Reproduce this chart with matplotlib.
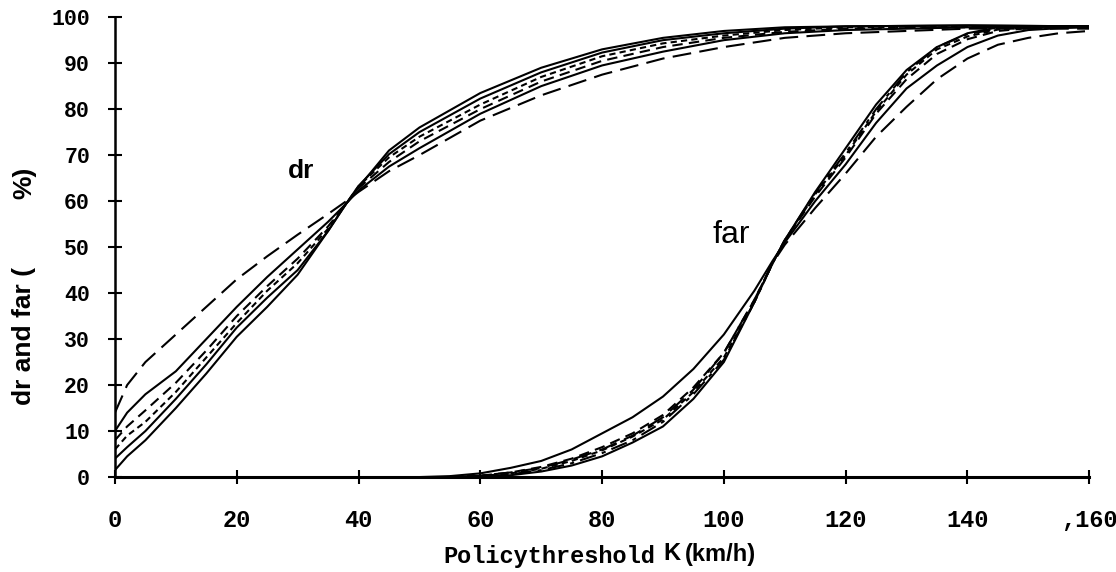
import matplotlib.pyplot
import numpy

# dr curves (detection rate, %)
k_dr = [0, 2, 5, 10, 15, 20, 25, 30, 35, 38, 40, 45, 50, 60, 70, 80, 90, 100, 110, 120, 140, 160]
dr_1 = [14, 20, 25, 31, 37, 43, 48, 52.7, 57.2, 60, 62, 66.5, 70, 77.5, 83, 87.5, 91, 93.5, 95.5, 96.5, 97.5, 97.5]
dr_2 = [10, 14, 18, 23, 30, 37, 43.5, 49.5, 55.5, 59.5, 62.3, 67.5, 71.5, 79, 85, 89.5, 92.5, 95, 96.5, 97.2, 97.8, 98]
dr_3 = [8, 11, 14.5, 20.5, 27.5, 35, 41.5, 47.5, 54.5, 59.5, 62.8, 68.5, 73, 80, 86, 90.5, 93.5, 95.5, 96.8, 97.5, 97.8, 98]
dr_4 = [6, 9, 12, 18.5, 26, 33.5, 40.5, 46.5, 54, 59.5, 63.2, 69.5, 74, 81, 87, 91.5, 94.3, 96, 97.2, 97.8, 98, 98]
dr_5 = [4, 6.5, 10, 17, 24.5, 32.5, 39, 45, 53.5, 59.5, 63.3, 70.2, 75, 82.3, 88, 92.3, 95, 96.5, 97.5, 98, 98.2, 98]
dr_6 = [1.5, 4.5, 8, 15, 22.5, 30.5, 37, 44, 53.5, 59.5, 63, 71, 76, 83.5, 89, 93, 95.5, 97, 97.8, 98, 98.2, 98]

# far curves (false alarm rate, %)
k_far = [0, 50, 55, 60, 65, 70, 75, 80, 85, 90, 95, 100, 105, 108, 110, 115, 120, 125, 130, 135, 140, 145, 150, 155, 160]
far_1 = [0, 0, 0.2, 0.8, 2, 3.5, 6, 9.5, 13, 17.5, 23.5, 31, 40.5, 47, 51, 60, 68, 77, 84.5, 89.5, 93.5, 96, 97.2, 97.6, 97.8]
far_2 = [0, 0, 0, 0.3, 1, 2.2, 4, 6.5, 9.5, 13.5, 19.5, 27, 38.5, 46.5, 51.5, 61, 69.5, 79, 86.5, 92, 95.2, 97, 97.6, 97.8, 98]
far_3 = [0, 0, 0, 0.2, 0.8, 1.8, 3.5, 5.8, 8.8, 12.5, 18.5, 26, 38, 46.5, 51.5, 61.5, 70, 79.5, 87.5, 93, 95.8, 97.3, 97.8, 98, 98]
far_4 = [0, 0, 0, 0.1, 0.6, 1.5, 3, 5.2, 8, 12, 18, 25.5, 38, 46.5, 51.5, 61.8, 70.5, 80, 88, 93.5, 96.3, 97.5, 98, 98, 98]
far_5 = [0, 0, 0, 0, 0.4, 1.2, 2.5, 4.5, 7.5, 11, 17, 25, 38, 46.5, 51.5, 62, 71.5, 81, 88.5, 93.5, 96.5, 97.8, 98, 98, 98]
far_6 = [0, 0, 0, 0.3, 1, 2, 3.8, 6, 9, 13, 19, 27, 38.5, 46.5, 50.5, 58.5, 66, 74, 80.5, 86.5, 91, 94, 95.5, 96.5, 97]

x_ticks = [0, 20, 40, 60, 80, 100, 120, 140, 160]
x_tick_labels = ["0", "20", "40", "60", "80", "100", "120", "140", ",160"]
y_ticks = [0, 10, 20, 30, 40, 50, 60, 70, 80, 90, 100]

# line styles for the six curves of each family
styles = [(0, (9, 4)), "-", (0, (5, 3)), (0, (3, 2)), "-", "-"]
far_styles = ["-", (0, (5, 3)), (0, (3, 2)), (0, (8, 3, 2, 3)), "-", (0, (9, 4))]

fig = matplotlib.pyplot.figure(figsize=(11.16, 5.72), dpi=100)
ax = fig.add_axes([0.103, 0.166, 0.873, 0.804])

for ys, ls in zip([dr_1, dr_2, dr_3, dr_4, dr_5, dr_6], styles):
    ax.plot(k_dr, ys, linestyle=ls, color="black", lw=1.5)
for ys, ls in zip([far_1, far_2, far_3, far_4, far_5, far_6], far_styles):
    ax.plot(k_far, ys, linestyle=ls, color="black", lw=1.5)

# curve labels
ax.text(30.6, 65, "dr", fontsize=19, fontweight="bold", family="Liberation Sans",
        ha="center", va="baseline")
ax.text(101.2, 50.9, "far", fontsize=23, family="Liberation Sans",
        ha="center", va="baseline")

# axes
ax.set_xlim(0, 160)
ax.set_ylim(0, 100)
ax.spines["top"].set_visible(False)
ax.spines["right"].set_visible(False)
ax.spines["left"].set_linewidth(1.8)
ax.spines["bottom"].set_linewidth(2.2)
ax.set_xticks(x_ticks)
ax.set_xticklabels(x_tick_labels, family="Liberation Mono", fontweight="bold", fontsize=17)
ax.set_yticks(y_ticks)
ax.set_yticklabels([str(v) for v in y_ticks], family="Liberation Mono", fontweight="bold", fontsize=15.5)
ax.tick_params(axis="x", direction="inout", length=10, width=1.5, pad=18)
ax.tick_params(axis="y", direction="inout", length=10, width=1.5, pad=13)

# axis titles
fig.text(655 / 1116, 1 - 556 / 572, "Policythreshold", family="Liberation Mono",
         fontweight="bold", fontsize=17, ha="right", va="center")
fig.text(663 / 1116, 1 - 554 / 572, "K", family="Liberation Sans",
         fontweight="bold", fontsize=17, ha="left", va="center")
fig.text(685 / 1116, 1 - 555 / 572, "(km/h)", family="Liberation Sans",
         fontweight="bold", fontsize=17, ha="left", va="center")
fig.text(24 / 1116, 1 - 336 / 572, "dr and far (", family="Liberation Sans",
         fontweight="bold", fontsize=19, rotation=90, ha="center", va="center")
fig.text(24 / 1116, 1 - 183 / 572, "%)", family="Liberation Sans",
         fontweight="bold", fontsize=19, rotation=90, ha="center", va="center")

matplotlib.pyplot.savefig("out.png", dpi=100)
